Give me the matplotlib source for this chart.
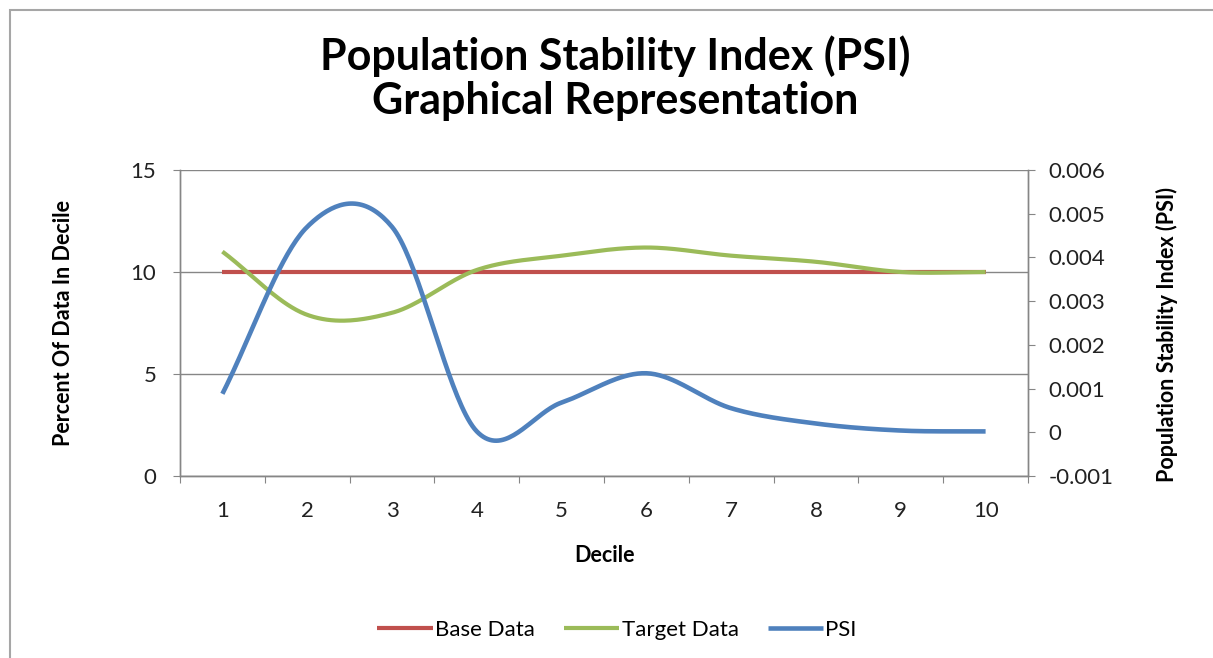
import numpy as np
import matplotlib
matplotlib.use('Agg')
from matplotlib import pyplot as plt
from matplotlib.patches import Rectangle
from matplotlib.ticker import FixedLocator, FuncFormatter

plt.rcParams['font.family'] = ['Lato', 'DejaVu Sans']

deciles = [1, 2, 3, 4, 5, 6, 7, 8, 9, 10]
base_data = [10, 10, 10, 10, 10, 10, 10, 10, 10, 10]
target_data = [11.0, 7.9, 8.0, 10.1, 10.8, 11.2, 10.8, 10.5, 10.0, 10.0]
psi = [0.00088, 0.0047, 0.0047, 0.00002, 0.00068, 0.00135, 0.00055, 0.0002, 0.00004, 0.00002]

RED = '#C0504D'
GREEN = '#9BBB59'
BLUE = '#4F81BD'
GRID = '#868686'
TXT = '#222222'


def smooth(x, y, n=40):
    # catmull-rom style smoothing, like excel's "smoothed line"
    x = np.asarray(x, float)
    y = np.asarray(y, float)
    px = np.concatenate([[2 * x[0] - x[1]], x, [2 * x[-1] - x[-2]]])
    py = np.concatenate([[2 * y[0] - y[1]], y, [2 * y[-1] - y[-2]]])
    xs, ys = [], []
    t = np.linspace(0, 1, n)
    for i in range(1, len(px) - 2):
        for arr, out in ((px, xs), (py, ys)):
            p0, p1, p2, p3 = arr[i - 1], arr[i], arr[i + 1], arr[i + 2]
            m1 = (p2 - p0) / 2
            m2 = (p3 - p1) / 2
            h00 = 2 * t**3 - 3 * t**2 + 1
            h10 = t**3 - 2 * t**2 + t
            h01 = -2 * t**3 + 3 * t**2
            h11 = t**3 - t**2
            out.append(h00 * p1 + h10 * m1 + h01 * p2 + h11 * m2)
    return np.concatenate(xs), np.concatenate(ys)


W, H = 1213, 658
fig = plt.figure(figsize=(W / 100, H / 100), dpi=100)
fig.patches.append(Rectangle((10 / W, -0.1), 1.2, 1 - 10 / H + 0.1, transform=fig.transFigure,
                             fill=False, edgecolor='#a6a6a6', lw=1.5))

ax = fig.add_axes([180 / W, 1 - 476 / H, 848 / W, 306 / H])
ax2 = ax.twinx()

l1, = ax.plot(*smooth(deciles, base_data), color=RED, lw=3.0, solid_capstyle='butt', label='Base Data')
l2, = ax.plot(*smooth(deciles, target_data), color=GREEN, lw=3.0, solid_capstyle='butt', label='Target Data')
l3, = ax2.plot(*smooth(deciles, psi), color=BLUE, lw=3.3, solid_capstyle='butt', label='PSI')

ax.set_xlim(0.5, 10.5)
ax.set_ylim(0, 15)
ax2.set_ylim(-0.001, 0.006)

ax.set_yticks([0, 5, 10, 15])
ax.yaxis.grid(True, color=GRID, lw=1.0)
ax.set_axisbelow(True)
ax.xaxis.set_major_locator(FixedLocator(np.arange(0.5, 11, 1)))
ax.xaxis.set_major_formatter(FuncFormatter(lambda v, p: ''))
ax.xaxis.set_minor_locator(FixedLocator(deciles))
ax.xaxis.set_minor_formatter(FuncFormatter(lambda v, p: '%d' % v))
ax.tick_params(axis='x', which='minor', length=0, pad=18, labelsize=16, labelcolor=TXT)
ax.tick_params(axis='x', which='major', length=5, color=GRID, direction='out')
ax.tick_params(axis='y', length=5, color=GRID, labelsize=16, labelcolor=TXT, pad=12)

ax2.set_yticks(np.arange(-0.001, 0.0065, 0.001))
ax2.yaxis.set_major_formatter(FuncFormatter(lambda v, p: '0' if abs(v) < 1e-9 else '%.3f' % v))
ax2.tick_params(axis='y', length=5, color=GRID, labelsize=16, labelcolor=TXT, pad=10)

for a in (ax, ax2):
    a.spines['top'].set_visible(False)
    for s in ('left', 'right', 'bottom'):
        a.spines[s].set_color(GRID)
        a.spines[s].set_linewidth(1.0)

fig.text(604 / W, 1 - 555 / H, 'Decile', ha='center', va='center', fontsize=15.5, fontweight='bold')
fig.text(63 / W, 1 - 323 / H, 'Percent Of Data In Decile', ha='center', va='center', rotation=90,
         fontsize=15.5, fontweight='bold')
fig.text(1167 / W, 1 - 334 / H, 'Population Stability Index (PSI)', ha='center', va='center', rotation=90,
         fontsize=15.5, fontweight='bold')

fig.text(615 / W, 1 - 78 / H, 'Population Stability Index (PSI)\nGraphical Representation',
         ha='center', va='center', fontsize=31, fontweight='bold', linespacing=1.12)

fig.legend(handles=[l1, l2, l3], loc='center', bbox_to_anchor=(617 / W, 1 - 630 / H), ncol=3,
           frameon=False, fontsize=16, handlelength=2.5, handletextpad=0.1, columnspacing=1.3)

fig.savefig('out.png', dpi=100)
